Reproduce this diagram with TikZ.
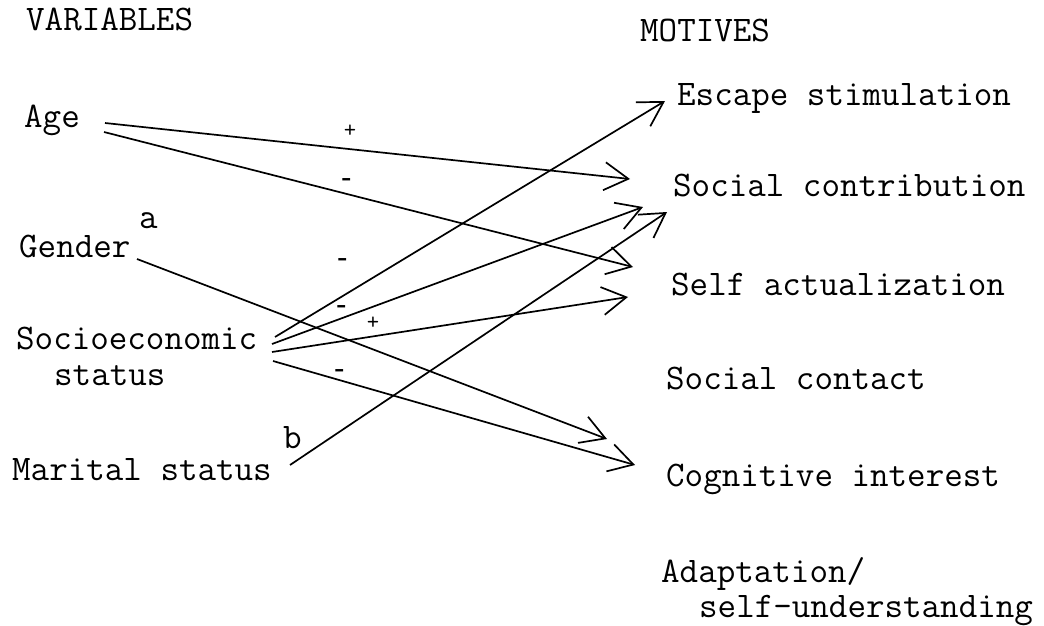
\documentclass[tikz,border=0pt]{standalone}
\usepackage{fontspec}
\usetikzlibrary{arrows.meta}
\begin{document}
\begin{tikzpicture}[x=1pt,y=-1pt,
  txt/.style={anchor=base west,inner sep=0pt,font=\ttfamily\fontsize{36}{38}\selectfont},
  plus/.style={inner sep=0pt,font=\ttfamily\fontsize{24}{26}\selectfont},
  minus/.style={inner sep=0pt,font=\rmfamily\bfseries\fontsize{26}{28}\selectfont},
  conn/.style={line width=1.7pt,-{Straight Barb[length=24pt,width=28pt,line width=1.7pt]}},
  ]
\useasboundingbox[fill=white] (0,0) rectangle (1044,626);
% headers
\node[txt] (var) at (26,31) {VARIABLES};
\node[txt] (mot) at (640,42) {MOTIVES};
% variables
\node[txt] (age) at (24,127) {Age};
\node[txt] (gena) at (139,228) {a};
\node[txt] (gen) at (19,257) {Gender};
\node[txt] (ses) at (16,349) {Socioeconomic};
\node[txt] (ses2) at (54,385) {status};
\node[txt] (marb) at (283,448) {b};
\node[txt] (mar) at (12,480) {Marital status};
% motives
\node[txt] (esc) at (677,106) {Escape stimulation};
\node[txt] (sc) at (673,196) {Social contribution};
\node[txt] (sa) at (671,295) {Self actualization};
\node[txt] (sct) at (666,389) {Social contact};
\node[txt] (cog) at (666,486) {Cognitive interest};
\node[txt] (ad1) at (661,582) {Adaptation/};
\node[txt] (ad2) at (699,617) {self-understanding};
% connector ends
\coordinate (a1) at (105,123); \coordinate (a1t) at (630,179);
\coordinate (a2) at (104,132); \coordinate (a2t) at (633,267);
\coordinate (g1) at (137,259); \coordinate (g1t) at (607,439);
\coordinate (s1) at (275,337); \coordinate (s1t) at (665,101);
\coordinate (s2) at (272,344); \coordinate (s2t) at (643,207);
\coordinate (s3) at (272,352); \coordinate (s3t) at (628,297);
\coordinate (s4) at (273,361); \coordinate (s4t) at (635,465);
\coordinate (m1) at (290,465); \coordinate (m1t) at (667,212);
% connectors
\draw[conn] (a1) -- (a1t);
\draw[conn] (a2) -- (a2t);
\draw[conn] (g1) -- (g1t);
\draw[conn] (s1) -- (s1t);
\draw[conn] (s2) -- (s2t);
\draw[conn] (s3) -- (s3t);
\draw[conn] (s4) -- (s4t);
\draw[conn] (m1) -- (m1t);
% signs
\node[plus] (p1) at (350,131) {+};
\node[minus] (n1) at (347,182) {-};
\node[minus] (n2) at (343,262) {-};
\node[minus] (n3) at (342,309) {-};
\node[plus] (p2) at (373,323) {+};
\node[minus] (n4) at (340,373) {-};
\end{tikzpicture}
\end{document}
